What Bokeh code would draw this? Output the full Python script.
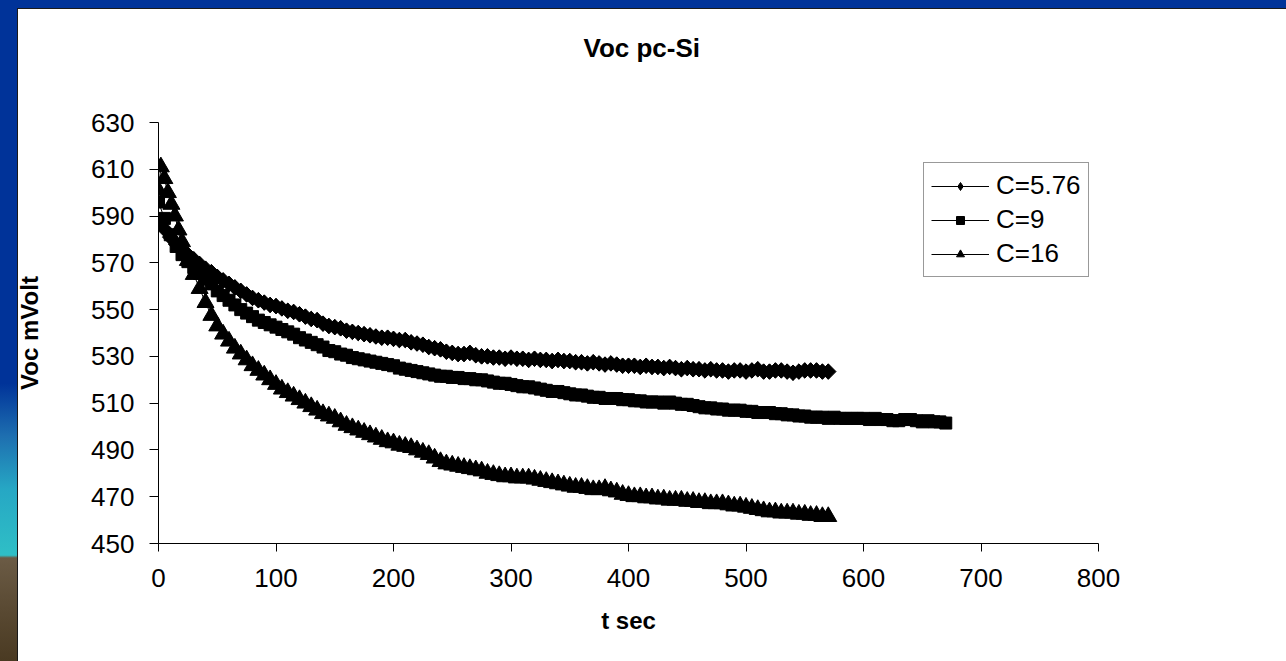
import math
from bokeh.plotting import figure
from bokeh.models import Range1d, Legend, LegendItem, FixedTicker, LinearAxis
from bokeh.embed import file_html
from bokeh.resources import INLINE

title_text = "Voc pc-Si"
x_label = "t sec"
y_label = "Voc mVolt"
x_ticks = [0, 100, 200, 300, 400, 500, 600, 700, 800]
y_ticks = [450, 470, 490, 510, 530, 550, 570, 590, 610, 630]
labels = ["C=5.76", "C=9", "C=16"]

# C=5.76 (diamonds)
t_a = [0, 5, 10, 15, 20, 25, 30, 35, 40, 45, 50, 55, 60, 65, 70, 75, 80, 85, 90, 95,
       100, 105, 110, 115, 120, 125, 130, 135, 140, 145, 150, 155, 160, 165, 170, 175, 180, 185, 190, 195,
       200, 205, 210, 215, 220, 225, 230, 235, 240, 245, 250, 255, 260, 265, 270, 275, 280, 285, 290, 295,
       300, 305, 310, 315, 320, 325, 330, 335, 340, 345, 350, 355, 360, 365, 370, 375, 380, 385, 390, 395,
       400, 405, 410, 415, 420, 425, 430, 435, 440, 445, 450, 455, 460, 465, 470, 475, 480, 485, 490, 495,
       500, 505, 510, 515, 520, 525, 530, 535, 540, 545, 550, 555, 560, 565, 570]
v_a = [588, 584.5, 581, 578, 575.5, 573.5, 571.5, 569.5, 567.5, 566, 564, 562.5, 561, 559.5, 558, 556.5, 555, 554, 553, 552,
       551.5, 550.5, 549.5, 549, 548, 547, 546, 545.5, 544, 543, 542.5, 542, 541, 540.5, 540, 539.5, 539, 538.5, 538, 538,
       537.5, 537, 537, 536, 535.5, 535, 534, 533.5, 533, 532, 531.5, 531, 531, 531.5, 530.5, 530, 530, 529.5, 529.5, 529,
       529.5, 529, 529, 528.5, 529, 528.5, 528.5, 528, 528.5, 528, 528, 527.5, 527.5, 527, 527.5, 527, 526.5, 527, 526.5, 526,
       526, 526, 525.5, 526, 525.5, 525.5, 525, 525.5, 525, 524.5, 525, 524.5, 524.5, 524, 524.5, 524, 524, 523.5, 524, 524,
       523.5, 524, 524.5, 523.5, 523.5, 524, 524, 523.5, 523, 523.5, 524, 524, 524, 523.5, 523.5]

# C=9 (squares)
t_b = [0, 5, 10, 15, 20, 25, 30, 35, 40, 45, 50, 55, 60, 65, 70, 75, 80, 85, 90, 95,
       100, 105, 110, 115, 120, 125, 130, 135, 140, 145, 150, 155, 160, 165, 170, 175, 180, 185, 190, 195,
       200, 205, 210, 215, 220, 225, 230, 235, 240, 245, 250, 255, 260, 265, 270, 275, 280, 285, 290, 295,
       300, 305, 310, 315, 320, 325, 330, 335, 340, 345, 350, 355, 360, 365, 370, 375, 380, 385, 390, 395,
       400, 405, 410, 415, 420, 425, 430, 435, 440, 445, 450, 455, 460, 465, 470, 475, 480, 485, 490, 495,
       500, 505, 510, 515, 520, 525, 530, 535, 540, 545, 550, 555, 560, 565, 570, 575, 580, 585, 590, 595,
       600, 605, 610, 615, 620, 625, 630, 635, 640, 645, 650, 655, 660, 665, 670]
v_b = [596, 589, 582, 577, 573.5, 570.5, 568, 565.5, 563, 561, 558, 556, 554, 552, 550, 548.5, 547, 545.5, 544.5, 543.5,
       542.5, 541.5, 540.5, 539.5, 538, 537, 536, 535, 534, 532.5, 532, 531, 530.5, 529.5, 529, 528.5, 528, 527.5, 527, 526.5,
       526, 525, 524.5, 524, 523.5, 523, 522.5, 522, 521.5, 521.5, 521, 521, 520.5, 520.5, 520, 520, 519.5, 519, 518.5, 518.5,
       518, 517.5, 517, 517, 516.5, 516, 515.5, 515, 515, 514.5, 514, 513.5, 513.5, 513, 512.5, 512.5, 512, 512, 512, 511.5,
       511.5, 511, 511, 510.5, 510.5, 510.5, 510, 510.5, 510, 509.5, 509.5, 509, 508.5, 508, 508, 507.5, 507.5, 507, 507, 507,
       506.5, 506.5, 506, 506, 506, 505.5, 505.5, 505, 505, 504.5, 504.5, 504, 504, 504, 503.5, 504, 503.5, 503.5, 503.5, 503.5,
       503.5, 503, 503.5, 503, 503, 502.5, 502.5, 503, 503, 502.5, 502, 502.5, 502, 502, 501.5]

# C=16 (triangles)
t_c = [0, 2, 5, 8, 11, 14, 17, 20,
       25, 30, 35, 40, 45, 50, 55, 60, 65, 70, 75, 80, 85, 90, 95,
       100, 105, 110, 115, 120, 125, 130, 135, 140, 145, 150, 155, 160, 165, 170, 175, 180, 185, 190, 195,
       200, 205, 210, 215, 220, 225, 230, 235, 240, 245, 250, 255, 260, 265, 270, 275, 280, 285, 290, 295,
       300, 305, 310, 315, 320, 325, 330, 335, 340, 345, 350, 355, 360, 365, 370, 375, 380, 385, 390, 395,
       400, 405, 410, 415, 420, 425, 430, 435, 440, 445, 450, 455, 460, 465, 470, 475, 480, 485, 490, 495,
       500, 505, 510, 515, 520, 525, 530, 535, 540, 545, 550, 555, 560, 565, 570]
v_c = [601, 611, 606, 600, 595, 590, 584, 579,
       571, 565, 559, 553, 547.5, 543, 539.5, 536.5, 533.5, 531, 528.5, 526, 524, 522, 520,
       518, 516, 514.5, 513, 511.5, 510, 508.5, 507, 505.5, 504.5, 503.5, 502, 500.5, 499.5, 498.5, 497.5, 496.5, 495.5, 494.5, 493.5,
       493, 492, 491.5, 491, 490, 489, 488, 486.5, 485, 484, 483.5, 483, 482.5, 482, 481.5, 481, 480, 479.5, 479, 478.5,
       478.5, 478, 478, 478, 477.5, 477, 476.5, 476, 475.5, 475, 474.5, 474, 474, 473.5, 473, 473, 473.5, 472.5, 472, 471,
       470.5, 470, 470, 469.5, 469.5, 469, 469, 468.5, 468.5, 468.5, 468, 468, 467.5, 467.5, 467, 467, 467, 466.5, 466, 466,
       465.5, 465, 464.5, 464, 463.5, 463.5, 463, 463, 463, 462.5, 462.5, 462, 462, 461.5, 461.5]

assert len(t_a) == len(v_a) and len(t_b) == len(v_b) and len(t_c) == len(v_c)

FONT = "Liberation Sans"

frame_css = ("linear-gradient(#1a1a1a, #1a1a1a) 17px 8px / 1px 100% no-repeat, "
             "linear-gradient(#1a1a1a, #1a1a1a) 17px 8px / 100% 1px no-repeat, "
             "linear-gradient(#003399, #003399) 0 0 / 100% 8px no-repeat, "
             "linear-gradient(to bottom, #003399 0%, #003399 58%, #1e6fb0 66%, #26a7c4 74%, "
             "#2fbfc6 84%, #6b5b45 84.4%, #5a4a33 92%, #4a3a22 100%) 0 0 / 17px 100% no-repeat, #ffffff")

p = figure(width=1286, height=661, output_backend="svg", toolbar_location=None,
           x_range=Range1d(0, 800), y_range=Range1d(450, 630),
           min_border_left=158, min_border_right=188, min_border_top=122, min_border_bottom=118,
           styles={"background": frame_css})
p.outline_line_color = None
p.xgrid.visible = False
p.ygrid.visible = False
p.background_fill_color = "white"
p.border_fill_color = None

xa = p.below[0]
ya = p.left[0]

# invisible spacer axis above the plot area (no line, no tick marks, no visible labels):
# it only reserves room so the title sits where the reference has it
spacer = LinearAxis(ticker=FixedTicker(ticks=x_ticks), axis_line_color=None,
                    major_tick_line_color=None, minor_tick_line_color=None,
                    major_tick_out=55, major_tick_in=0, major_label_standoff=0,
                    major_label_text_font_size="0px", major_label_text_color=None,
                    major_label_overrides={t: "" for t in x_ticks})
p.add_layout(spacer, "above")

p.title.text = title_text
p.title.align = "left"
p.title.offset = 425
p.title.standoff = 10
p.title.text_font = FONT
p.title.text_font_size = "26px"
p.title.text_font_style = "bold"
p.title.text_color = "black"

for ax, ticks in ((xa, x_ticks), (ya, y_ticks)):
    ax.ticker = FixedTicker(ticks=ticks)
    ax.axis_line_color = "black"
    ax.major_tick_line_color = "black"
    ax.minor_tick_line_color = None
    ax.major_tick_in = 0
    ax.major_label_text_font = FONT
    ax.major_label_text_font_size = "26px"
    ax.major_label_text_color = "black"
    ax.axis_label_text_font = FONT
    ax.axis_label_text_font_size = "24px"
    ax.axis_label_text_font_style = "bold"
    ax.axis_label_text_color = "black"

xa.axis_label = x_label
ya.axis_label = y_label
xa.major_tick_out = 8
ya.major_tick_out = 9
xa.major_label_standoff = 17
ya.major_label_standoff = 15
xa.axis_label_standoff = 17
ya.axis_label_standoff = 45

# smaller copies (hidden under the data markers) used as legend swatches
ga = p.scatter(t_a, v_a, marker="diamond", size=15, fill_color="black", line_color="black")
gb = p.scatter(t_b, v_b, marker="square", size=10, fill_color="black", line_color="black")
gc = p.scatter(t_c, v_c, marker="triangle", size=14, fill_color="black", line_color="black")

la = p.line(t_a, v_a, line_color="black", line_width=1)
sa = p.scatter(t_a, v_a, marker="square", angle=math.pi / 4, size=11,
               fill_color="black", line_color="black")
lb = p.line(t_b, v_b, line_color="black", line_width=1)
sb = p.scatter(t_b, v_b, marker="square", size=12, fill_color="black", line_color="black")
lc = p.line(t_c, v_c, line_color="black", line_width=1)
sc = p.scatter(t_c, v_c, marker="triangle", size=17, fill_color="black", line_color="black")

legend = Legend(items=[LegendItem(label=labels[0], renderers=[la, ga]),
                       LegendItem(label=labels[1], renderers=[lb, gb]),
                       LegendItem(label=labels[2], renderers=[lc, gc])],
                location=(765, 266))
legend.label_text_font = FONT
legend.label_text_font_size = "26px"
legend.label_text_color = "black"
legend.glyph_width = 58
legend.glyph_height = 20
legend.label_standoff = 7
legend.padding = 7
legend.spacing = 3
legend.margin = 0
legend.border_line_color = "#333333"
legend.border_line_width = 1
legend.background_fill_color = "white"
legend.background_fill_alpha = 1
p.add_layout(legend)

open("out.html", "w").write(file_html(p, INLINE))
